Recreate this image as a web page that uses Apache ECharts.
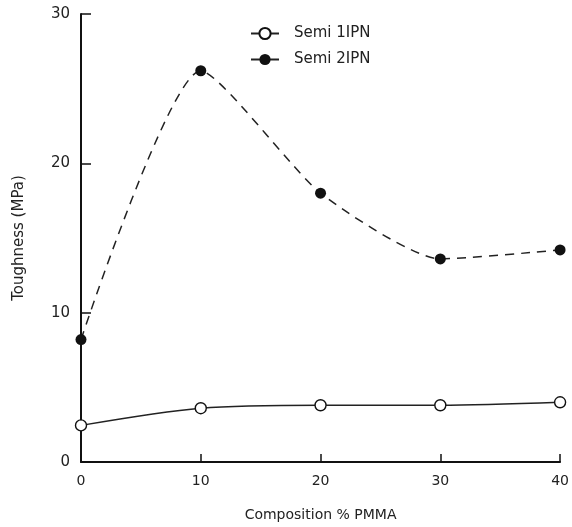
<!DOCTYPE html>
<html><head><meta charset="utf-8">
<script src="https://cdn.jsdelivr.net/npm/echarts@6/dist/echarts.min.js"></script>
<style>html,body{margin:0;padding:0;background:#fff}#c{width:572px;height:527px}</style>
</head><body><div id="c"></div>
<script>
var categories = [0, 10, 20, 30, 40];
var semi1 = [2.45, 3.6, 3.8, 3.8, 4.0];
var semi2 = [8.2, 26.2, 18.0, 13.6, 14.2];
var yTicks = [0, 10, 20, 30];
var xTicks = [0, 10, 20, 30, 40];

var FONT = 'DejaVu Sans';
var chart = echarts.init(document.getElementById('c'), null, {renderer: 'canvas'});
chart.setOption({
  animation: false,
  textStyle: {fontFamily: FONT, color: '#222'},
  grid: {left: 81, right: 6, top: 14, bottom: 60},
  legend: {
    orient: 'vertical', left: 245, top: 21, itemWidth: 28, itemHeight: 14, itemGap: 11,
    textStyle: {fontFamily: FONT, fontSize: 15, color: '#222', padding: [0, 0, 0, 10]},
    data: [
      {name: 'Semi 1IPN'},
      {name: 'Semi 2IPN', lineStyle: {type: 'solid'}}
    ]
  },
  xAxis: {
    type: 'value', min: 0, max: 40, interval: 10,
    name: 'Composition % PMMA', nameLocation: 'middle', nameGap: 46,
    nameTextStyle: {fontSize: 14, color: '#222', fontFamily: FONT},
    axisLine: {onZero: false, lineStyle: {color: '#111', width: 2}},
    axisTick: {inside: true, length: 8, lineStyle: {color: '#111', width: 1.5}},
    axisLabel: {fontSize: 14, color: '#222', margin: 12, fontFamily: FONT,
      formatter: function(v){ return xTicks.indexOf(v) >= 0 ? String(v) : ''; }},
    splitLine: {show: false}
  },
  yAxis: {
    type: 'value', min: 0, max: 30, interval: 10,
    name: 'Toughness (MPa)', nameLocation: 'middle', nameGap: 54,
    nameTextStyle: {fontSize: 15, color: '#222', fontFamily: FONT},
    axisLine: {show: true, lineStyle: {color: '#111', width: 2}},
    axisTick: {show: true, inside: true, length: 10, lineStyle: {color: '#111', width: 1.5}},
    axisLabel: {fontSize: 15, color: '#222', margin: 11, fontFamily: FONT,
      formatter: function(v){ return yTicks.indexOf(v) >= 0 ? String(v) : ''; }},
    splitLine: {show: false}
  },
  series: [
    {
      name: 'Semi 1IPN', type: 'line', smooth: 0.3,
      data: categories.map(function(x, i){ return [x, semi1[i]]; }),
      symbol: 'circle', symbolSize: 11,
      itemStyle: {color: '#fff', borderColor: '#111', borderWidth: 1.4},
      lineStyle: {color: '#222', width: 1.3}
    },
    {
      name: 'Semi 2IPN', type: 'line', smooth: 0.2,
      data: categories.map(function(x, i){ return [x, semi2[i]]; }),
      symbol: 'circle', symbolSize: 11,
      itemStyle: {color: '#111', borderColor: '#111', borderWidth: 0},
      lineStyle: {color: '#222', width: 1.5, type: [9, 7]}
    }
  ]
});
</script></body></html>
